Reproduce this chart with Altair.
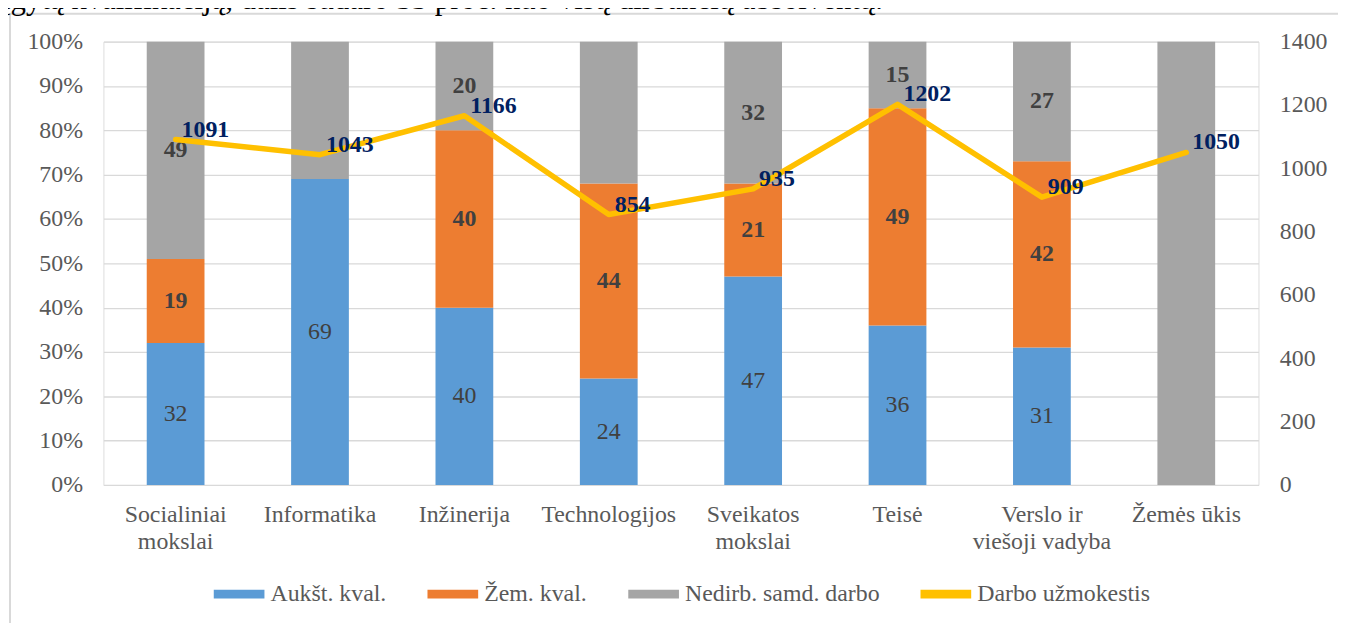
import altair as alt
import pandas as pd

categories = ["Socialiniai\nmokslai", "Informatika", "Inžinerija", "Technologijos",
              "Sveikatos\nmokslai", "Teisė", "Verslo ir\nviešoji vadyba", "Žemės ūkis"]
series_names = ["Aukšt. kval.", "Žem. kval.", "Nedirb. samd. darbo"]
line_name = "Darbo užmokestis"
high_skill = [32, 69, 40, 24, 47, 36, 31, 0]
low_skill = [19, 0, 40, 44, 21, 49, 42, 0]
not_skilled = [49, 31, 20, 32, 32, 15, 27, 100]
not_skilled_label_shown = [True, False, True, False, True, True, True, False]
wage = [1091, 1043, 1166, 854, 935, 1202, 909, 1050]
heading = "įgytą kvalifikaciją, dalis sudaro 33 proc. nuo visų dirbančių absolventų."

colors = ["#5B9BD5", "#ED7D31", "#A5A5A5", "#FFC000"]
FONT = "Liberation Serif"
FS = 24

rows = []
for i, c in enumerate(categories):
    for k, (s, vals) in enumerate(zip(series_names, [high_skill, low_skill, not_skilled])):
        show = vals[i] > 0 and (k < 2 or not_skilled_label_shown[i])
        rows.append({"cat": c, "series": s, "value": vals[i], "order": k, "show": show})
df = pd.DataFrame(rows)
wdf = pd.DataFrame({"cat": categories, "wage": wage})

x_enc = alt.X("cat:N", sort=categories, title=None,
              scale=alt.Scale(paddingInner=0, paddingOuter=0),
              axis=alt.Axis(labelAngle=0, domain=False, ticks=False, labelPadding=18,
                            labelExpr="split(datum.label, '\\n')", labelLineHeight=27,
                            labelFont=FONT, labelFontSize=FS, labelColor="#595959",
                            labelLimit=400, grid=False))

pct_scale = alt.Scale(domain=[0, 100], nice=False)

bars = alt.Chart(df).mark_bar(width={"band": 0.4}).encode(
    x=x_enc,
    y=alt.Y("value:Q", stack="zero", scale=pct_scale, title=None,
            axis=alt.Axis(values=list(range(0, 101, 10)), labelExpr="datum.value + '%'",
                          grid=True, gridColor="#D9D9D9", gridWidth=1.3, domain=False, ticks=False,
                          labelPadding=21, labelFont=FONT, labelFontSize=FS, labelColor="#595959")),
    color=alt.Color("series:N",
                    scale=alt.Scale(domain=series_names + [line_name], range=colors),
                    legend=alt.Legend(title=None, orient="none", legendX=111, legendY=530,
                                      direction="horizontal", columns=4, columnPadding=41,
                                      symbolType="M-1,-0.17L1,-0.17L1,0.17L-1,0.17Z",
                                      symbolSize=2600, symbolStrokeWidth=0, labelOffset=6,
                                      labelFont=FONT, labelFontSize=FS, labelColor="#595959",
                                      labelLimit=400, padding=0)),
    order=alt.Order("order:Q"),
)

stacked = alt.Chart(df).transform_stack(
    stack="value", groupby=["cat"], sort=[alt.SortField("order")], as_=["v0", "v1"]
).transform_calculate(mid="(datum.v0 + datum.v1) / 2").transform_filter("datum.show")

label_normal = stacked.transform_filter("datum.order == 0").mark_text(
    font=FONT, fontSize=FS, color="#404040", baseline="middle"
).encode(x=alt.X("cat:N", sort=categories), y=alt.Y("mid:Q", scale=pct_scale), text="value:Q")

label_bold = stacked.transform_filter("datum.order > 0").mark_text(
    font=FONT, fontSize=FS, fontWeight="bold", color="#404040", baseline="middle"
).encode(x=alt.X("cat:N", sort=categories), y=alt.Y("mid:Q", scale=pct_scale), text="value:Q")

left = alt.layer(bars, label_normal, label_bold)

wage_scale = alt.Scale(domain=[0, 1400], nice=False)
line = alt.Chart(wdf).mark_line(color="#FFC000", strokeWidth=5.5, strokeJoin="round",
                                strokeCap="round").encode(
    x=alt.X("cat:N", sort=categories),
    y=alt.Y("wage:Q", scale=wage_scale, title=None,
            axis=alt.Axis(orient="right", values=list(range(0, 1401, 200)), format="d",
                          grid=False, domain=False, ticks=False, labelPadding=21,
                          labelFont=FONT, labelFontSize=FS, labelColor="#595959")),
)
line_labels = alt.Chart(wdf).mark_text(
    font=FONT, fontSize=FS, fontWeight="bold", color="#002060",
    align="left", baseline="middle", dx=6, dy=-10
).encode(x=alt.X("cat:N", sort=categories), y=alt.Y("wage:Q", scale=wage_scale), text="wage:Q")

right = alt.layer(line, line_labels)

one = pd.DataFrame({"t": [heading]})
frame_left = alt.Chart(one).mark_rule(color="#D9D9D9", strokeWidth=2).encode(
    x=alt.value(-94), y=alt.value(-28), y2=alt.value(600))
frame_top = alt.Chart(one).mark_rule(color="#D9D9D9", strokeWidth=2).encode(
    x=alt.value(-94), x2=alt.value(1300), y=alt.value(-28))
head = alt.Chart(one).mark_text(font=FONT, fontSize=31, color="#000000", align="left",
                                baseline="alphabetic").encode(
    x=alt.value(-102), y=alt.value(-33), text="t:N")

chart = alt.layer(frame_left, frame_top, head, left, right).resolve_scale(
    y="independent"
).properties(
    width=1162, height=446,
    autosize=alt.AutoSizeParams(type="none"),
    padding={"left": 96, "top": 32, "right": 80, "bottom": 137},
).configure_view(stroke=None).configure(background="white")

chart.save("out.html", embed_options={"renderer": "svg", "actions": False})
